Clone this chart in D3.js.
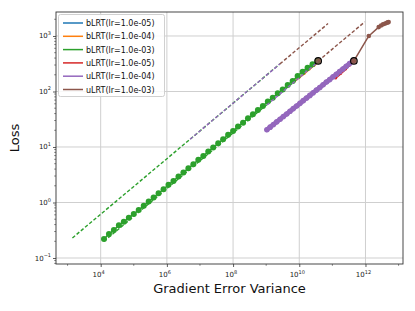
<!DOCTYPE html>
<html><head><meta charset="utf-8">
<script src="https://cdn.jsdelivr.net/npm/d3@7/dist/d3.min.js"></script>
<style>body{margin:0;background:#fff}svg{display:block}text{font-family:"DejaVu Sans",sans-serif}</style>
</head><body><svg id="c" width="415" height="311"></svg>
<script>
// ---- data ----
const seriesNames = ["bLRT(lr=1.0e-05)","bLRT(lr=1.0e-04)","bLRT(lr=1.0e-03)","uLRT(lr=1.0e-05)","uLRT(lr=1.0e-04)","uLRT(lr=1.0e-03)"];
const seriesColors = ["#1f77b4","#ff7f0e","#2ca02c","#d62728","#9467bd","#8c564b"];

const bVar5 = [1.26e10, 2.0e10, 3.16e10];
const bLoss5 = [209, 263, 324];
const bVar4 = [7.08e9, 1.0e10, 1.41e10, 2.0e10, 2.82e10, 3.72e10];
const bLoss4 = [151, 178, 209, 251, 295, 339];
const bVar3 = [1.26e4,1.78e4,2.51e4,3.55e4,5.01e4,7.08e4,1.0e5,1.41e5,2.0e5,2.82e5,3.98e5,5.62e5,7.94e5,1.12e6,1.58e6,2.24e6,3.16e6,4.47e6,6.31e6,8.91e6,1.26e7,1.78e7,2.51e7,3.55e7,5.01e7,7.08e7,1.0e8,1.41e8,2.0e8,2.82e8,3.98e8,5.62e8,7.94e8,1.12e9,1.58e9,2.24e9,3.16e9,4.47e9,6.31e9,8.91e9,1.26e10,1.78e10,2.51e10,3.55e10];
const bLoss3 = [0.22,0.27,0.32,0.39,0.45,0.53,0.62,0.73,0.87,1.04,1.23,1.47,1.73,2.08,2.45,2.94,3.46,4.16,4.88,5.87,6.89,8.29,9.77,11.7,13.8,16.6,19.4,23.3,27.4,33.0,38.8,46.6,54.8,65.8,77.4,93,109,131,155,190,228,269,309,355];
const uVar5 = [1.26e11, 1.78e11, 2.51e11, 3.31e11, 3.98e11];
const uLoss5 = [174, 209, 251, 295, 339];
const uVar4 = [1.05e9,1.32e9,1.66e9,2.09e9,2.63e9,3.31e9,4.17e9,5.25e9,6.61e9,8.32e9,1.05e10,1.32e10,1.66e10,2.09e10,2.63e10,3.31e10,4.17e10,5.25e10,6.61e10,8.32e10,1.05e11,1.32e11,1.66e11,2.09e11,2.63e11,3.31e11,4.17e11];
const uLoss4 = [20.4,22.8,25.4,28.4,31.7,35.4,39.4,44.1,49.2,54.8,61.2,68.4,76.2,85.1,95.1,106,118,132,148,164,184,205,229,255,285,318,355];
const uVar3 = [4.47e11, 1.26e12, 2.51e12, 2.95e12, 3.39e12, 3.80e12, 4.27e12, 4.68e12, 5.01e12];
const uLoss3 = [355, 1000, 1445, 1549, 1622, 1660, 1718, 1758, 1778];

// dashed reference lines (loss ~ sqrt(variance))
const refSeries = [2, 2, 4, 4, 5, 5];
const refVarStart = [1.4e3, 1.26e4, 5.0e6, 1.05e9, 2.6e9, 3.72e10];
const refVarEnd   = [2.6e9, 3.72e10, 2.6e9, 3.72e10, 7.4e10, 9.5e11];
const refLossStart = [0.23, 0.20, 13.8, 57, 314, 355];
const refLossEnd   = [314, 345, 314, 345, 1673, 1794];

// highlighted end points
const endVar = [3.72e10, 4.47e11];
const endLoss = [355, 355];

const xTickExp = [4, 6, 8, 10, 12];
const yTickExp = [-1, 0, 1, 2, 3];

// ---- layout ----
const L = 56, R = 403, T = 12, B = 264;
const svg = d3.select("#c");
const x = d3.scaleLog().domain([447, 1.36e13]).range([L, R]);
const y = d3.scaleLog().domain([0.078, 2705]).range([B, T]);

// grid
const g = svg.append("g");
xTickExp.forEach(e => g.append("line").attr("x1", x(10**e)).attr("x2", x(10**e)).attr("y1", T).attr("y2", B).attr("stroke", "#cfcfcf").attr("stroke-width", 1));
yTickExp.forEach(e => g.append("line").attr("y1", y(10**e)).attr("y2", y(10**e)).attr("x1", L).attr("x2", R).attr("stroke", "#cfcfcf").attr("stroke-width", 1));

// axes
const xAxis = d3.axisBottom(x).tickValues(xTickExp.map(e => 10**e)).tickSize(3).tickFormat(() => "");
const yAxis = d3.axisLeft(y).tickValues(yTickExp.map(e => 10**e)).tickSize(3).tickFormat(() => "");
const gx = svg.append("g").attr("transform", `translate(0,${B})`).call(xAxis);
const gy = svg.append("g").attr("transform", `translate(${L},0)`).call(yAxis);
[gx, gy].forEach(a => { a.select(".domain").remove(); a.selectAll("line").attr("stroke", "#333").attr("stroke-width", 0.8); });
// minor ticks
const yMinor = [];
for (let e = -2; e <= 3; e++) for (let m = 2; m <= 9; m++) { const v = m * 10**e; if (v > 0.078 && v < 2705) yMinor.push(v); }
svg.append("g").selectAll("line").data(yMinor).join("line").attr("x1", L).attr("x2", L - 1.8).attr("y1", d => y(d)).attr("y2", d => y(d)).attr("stroke", "#333").attr("stroke-width", 0.6);
const xMinor = [3, 5, 7, 9, 11, 13].map(e => 10**e);
svg.append("g").selectAll("line").data(xMinor).join("line").attr("y1", B).attr("y2", B + 1.8).attr("x1", d => x(d)).attr("x2", d => x(d)).attr("stroke", "#333").attr("stroke-width", 0.6);

// tick labels
xTickExp.forEach(e => {
  const t = svg.append("text").attr("x", x(10**e) - 2).attr("y", B + 13).attr("text-anchor", "middle").attr("font-size", 7).attr("fill", "#222");
  t.append("tspan").text("10");
  t.append("tspan").attr("dy", -3.5).attr("font-size", 5).text(e);
});
yTickExp.forEach(e => {
  const t = svg.append("text").attr("x", L - 5).attr("y", y(10**e) + 2.5).attr("text-anchor", "end").attr("font-size", 7).attr("fill", "#222");
  t.append("tspan").text("10");
  t.append("tspan").attr("dy", -3.5).attr("font-size", 5).text(e < 0 ? "\u2212" + (-e) : e);
});

// axis titles
svg.append("text").attr("x", (L + R) / 2).attr("y", 293).attr("text-anchor", "middle").attr("font-size", 13).attr("fill", "#111").text("Gradient Error Variance");
svg.append("text").attr("transform", `translate(19,${(T + B) / 2}) rotate(-90)`).attr("text-anchor", "middle").attr("font-size", 13).attr("fill", "#111").text("Loss");

// plot
svg.append("clipPath").attr("id", "pc").append("rect").attr("x", L).attr("y", T).attr("width", R - L).attr("height", B - T);
const p = svg.append("g").attr("clip-path", "url(#pc)");
const line = d3.line().x(d => x(d[0])).y(d => y(d[1]));
const zip = (a, b) => a.map((v, i) => [v, b[i]]);

const solid = [
  {i: 0, d: zip(bVar5, bLoss5), r: 0, w: 1.5},
  {i: 1, d: zip(bVar4, bLoss4), r: 1.3, w: 1.8},
  {i: 2, d: zip(bVar3, bLoss3), r: 3.0, w: 1.5},
  {i: 3, d: zip(uVar5, uLoss5), r: 1.3, w: 1.8},
  {i: 4, d: zip(uVar4, uLoss4), r: 2.8, w: 4.6},
  {i: 5, d: zip(uVar3, uLoss3), r: 2.3, w: 1.5}
];
function drawRefs(si) {
  refSeries.forEach((s, k) => {
    if (s !== si) return;
    p.append("path").attr("d", line([[refVarStart[k], refLossStart[k]], [refVarEnd[k], refLossEnd[k]]]))
      .attr("fill", "none").attr("stroke", seriesColors[s]).attr("stroke-width", 1.4).attr("stroke-dasharray", "3.5,2");
  });
}
solid.forEach(s => {
  drawRefs(s.i);
  p.append("path").attr("d", line(s.d)).attr("fill", "none").attr("stroke", seriesColors[s.i]).attr("stroke-width", s.w).attr("stroke-linecap", "round").attr("stroke-linejoin", "round");
  if (s.r > 0) p.append("g").selectAll("circle").data(s.d).join("circle")
    .attr("cx", d => x(d[0])).attr("cy", d => y(d[1])).attr("r", s.r).attr("fill", seriesColors[s.i]);
});
p.append("g").selectAll("circle").data(zip(endVar, endLoss)).join("circle")
  .attr("cx", d => x(d[0])).attr("cy", d => y(d[1])).attr("r", 3.3)
  .attr("fill", "#8c564b").attr("fill-opacity", 0.8).attr("stroke", "#000").attr("stroke-width", 1.1);

// frame
svg.append("rect").attr("x", L).attr("y", T).attr("width", R - L).attr("height", B - T).attr("fill", "none").attr("stroke", "#333").attr("stroke-width", 0.9);

// legend
const lg = svg.append("g");
lg.append("rect").attr("x", 58.5).attr("y", 14.5).attr("width", 106).attr("height", 82).attr("rx", 2).attr("fill", "#fff").attr("fill-opacity", 0.85).attr("stroke", "#d0d0d0");
seriesNames.forEach((n, i) => {
  const yy = 23 + i * 13.3;
  lg.append("line").attr("x1", 63).attr("x2", 83).attr("y1", yy).attr("y2", yy).attr("stroke", seriesColors[i]).attr("stroke-width", 1.5);
  lg.append("text").attr("x", 86).attr("y", yy + 3).attr("font-size", 8).attr("fill", "#111").text(n);
});
</script></body></html>
